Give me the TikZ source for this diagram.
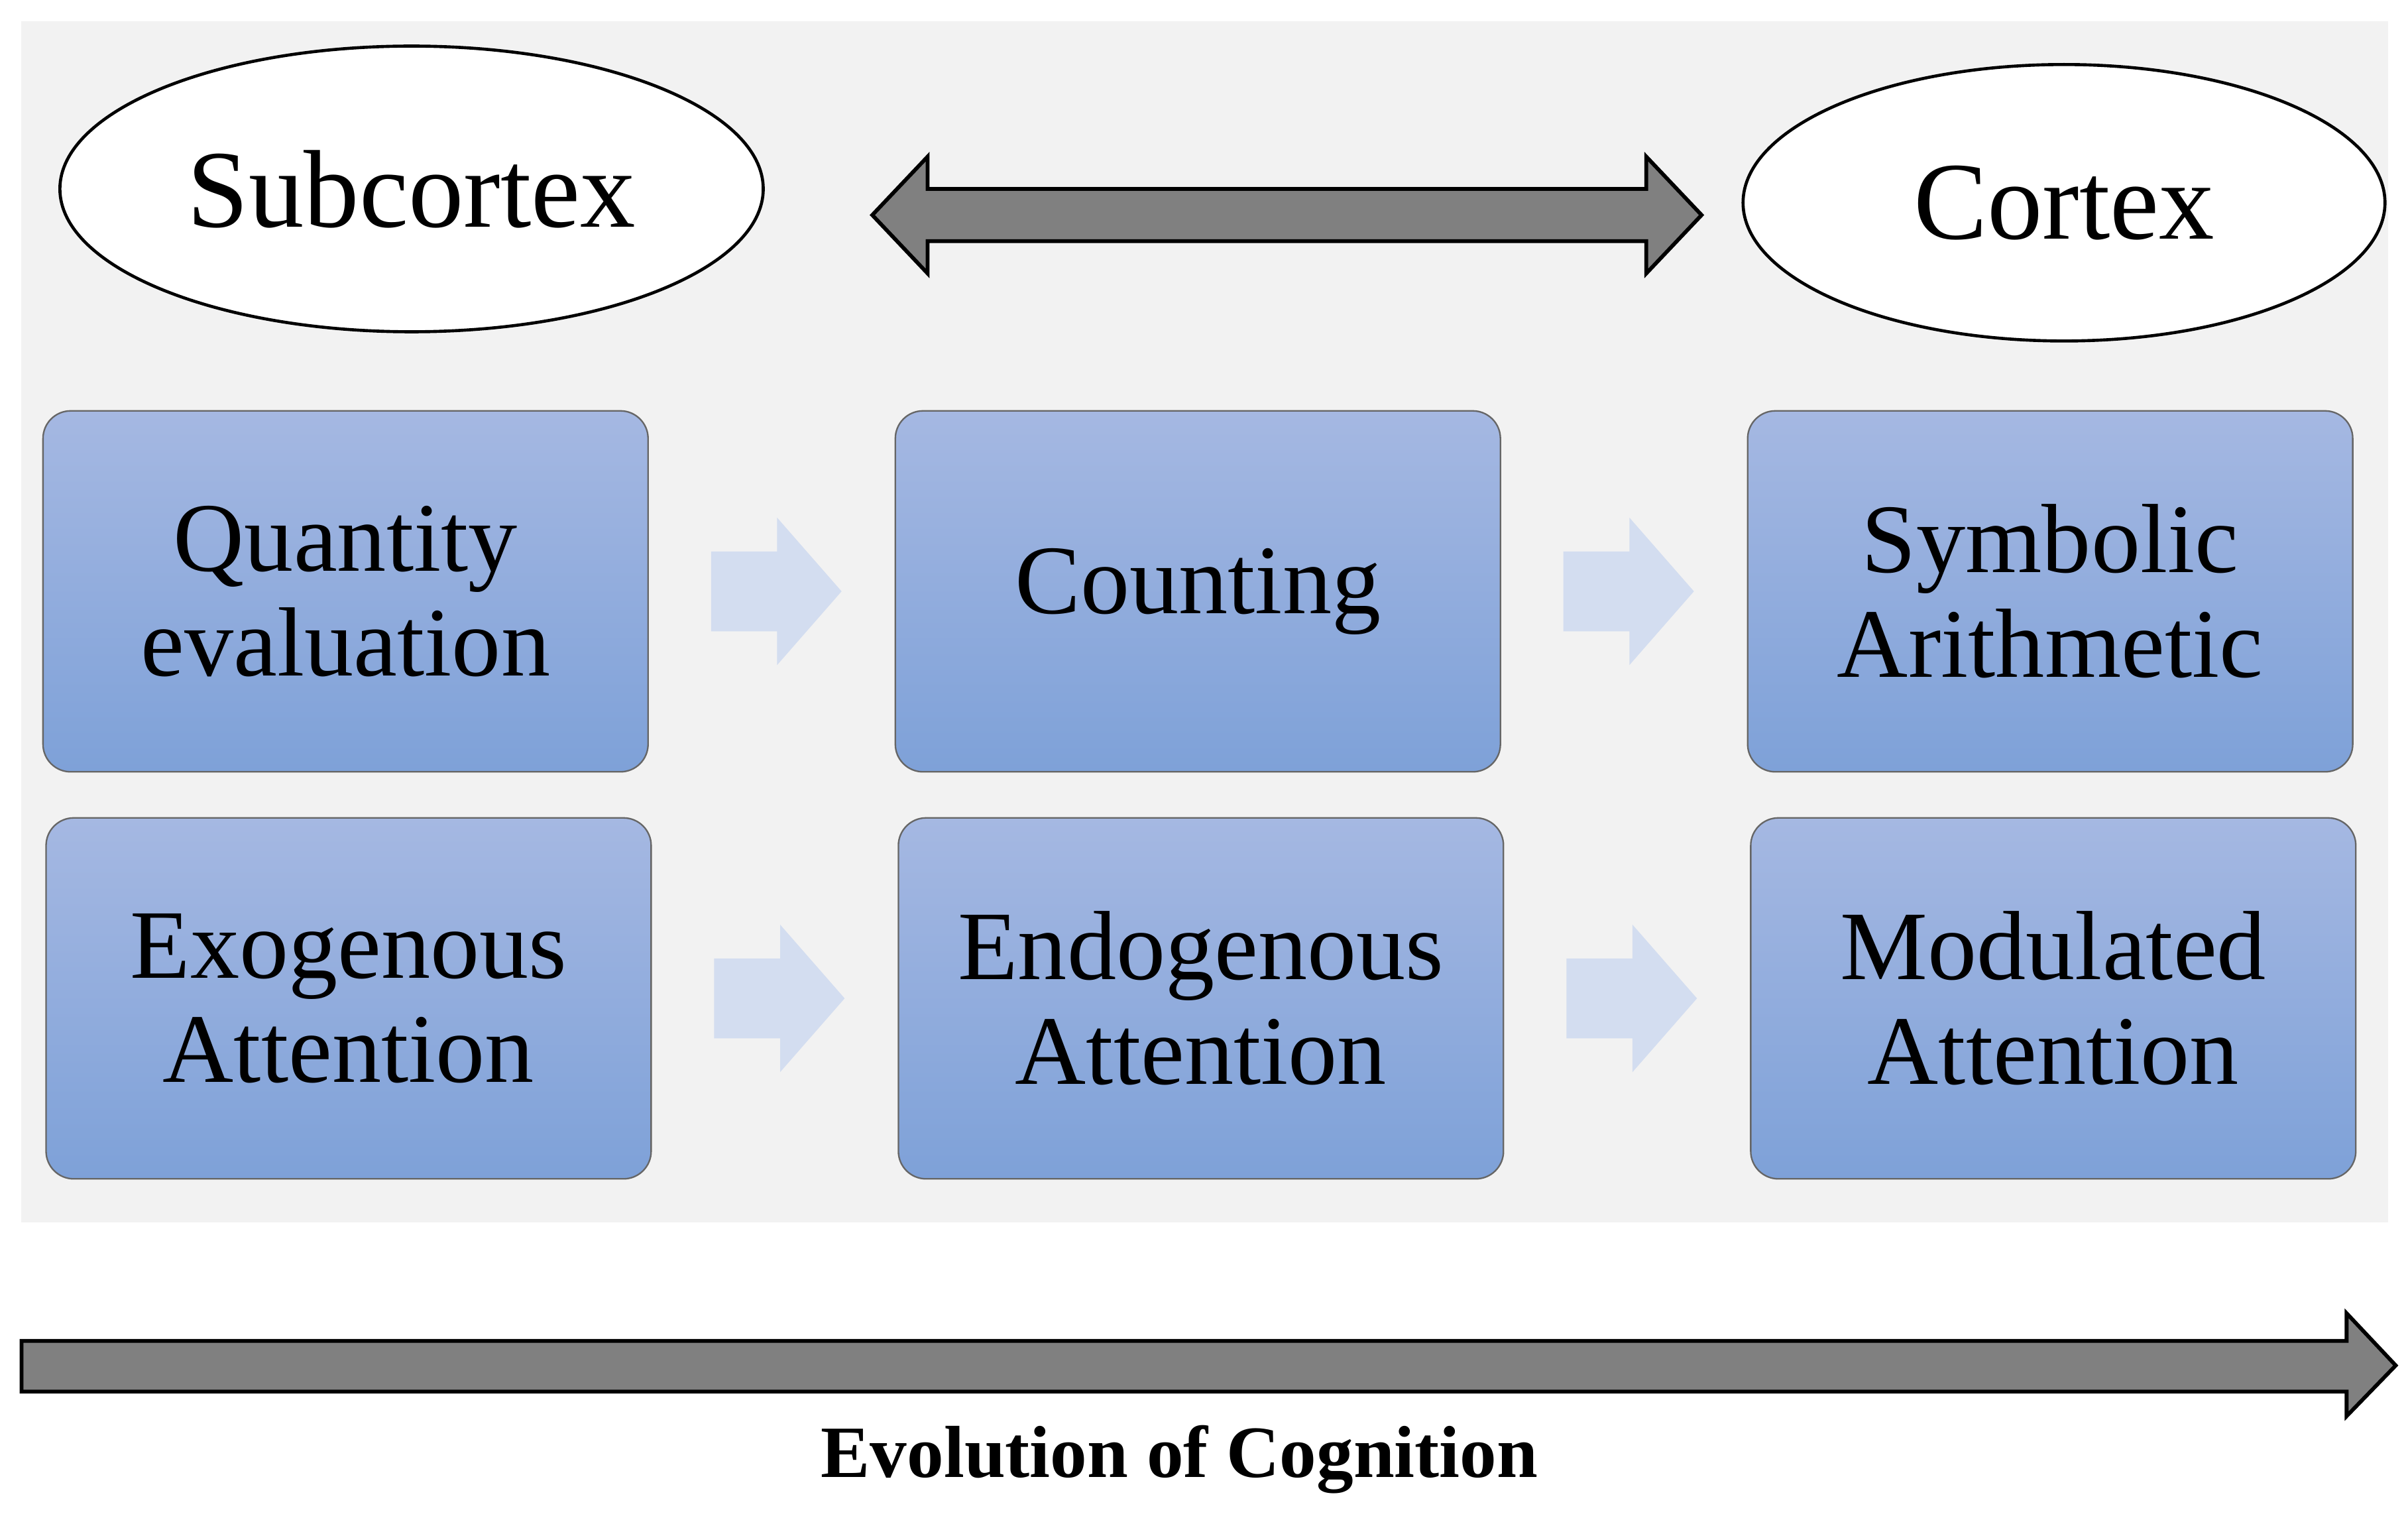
\documentclass[tikz,border=0pt]{standalone}
\usepackage{fontspec}
\setmainfont{Liberation Serif}
\usetikzlibrary{shapes.geometric}
\definecolor{bg}{HTML}{F2F2F2}
\definecolor{btop}{HTML}{A5B8E2}
\definecolor{bbot}{HTML}{7EA1D8}
\definecolor{dark}{HTML}{808080}
\definecolor{la}{HTML}{D3DDF0}
\tikzset{
 box/.style={draw=gray!80!black, line width=1pt, rounded corners=18pt, top color=btop, bottom color=bbot, minimum width=394pt, minimum height=235pt, align=center, font=\fontsize{64}{68}\selectfont, inner sep=0pt},
 ell/.style={ellipse, draw=black, line width=2pt, fill=white, font=\fontsize{72}{76}\selectfont},
 big/.style={fill=dark, draw=black, line width=2.5pt},
 light/.style={fill=la, draw=none}
}
\begin{document}
\begin{tikzpicture}[x=1pt,y=-1pt]
\useasboundingbox (0,0) rectangle (1568,996);
\fill[bg] (14,14) rectangle (1555,796);
\node[ell, minimum width=458pt, minimum height=186pt] (sub) at (268,123) {Subcortex};
\node[ell, minimum width=418pt, minimum height=180pt] (cor) at (1344,132) {Cortex};
\draw[big] (568,140) -- (604,102) -- (604,123) -- (1072,123) -- (1072,102) -- (1108,140) -- (1072,178) -- (1072,157) -- (604,157) -- (604,178) -- cycle;
\node[box] (q) at (225,385) {Quantity\\evaluation};
\node[box] (c) at (780,385) {Counting};
\node[box] (s) at (1335,385) {Symbolic\\Arithmetic};
\node[box] (e) at (227,650) {Exogenous\\Attention};
\node[box] (n) at (782,650) {Endogenous\\Attention};
\node[box] (m) at (1337,650) {Modulated\\Attention};
\foreach \x/\y in {463/385,1018/385,465/650,1020/650}{
 \fill[light] (\x,\y-26) -- (\x+43,\y-26) -- (\x+43,\y-48) -- (\x+85,\y) -- (\x+43,\y+48) -- (\x+43,\y+26) -- (\x,\y+26) -- cycle;
}
\draw[big] (14,873) -- (1528,873) -- (1528,855) -- (1560,889) -- (1528,922) -- (1528,906) -- (14,906) -- cycle;
\node[font=\fontsize{48}{52}\selectfont\bfseries] (ev) at (768,950) {Evolution of Cognition};
\end{tikzpicture}
\end{document}
